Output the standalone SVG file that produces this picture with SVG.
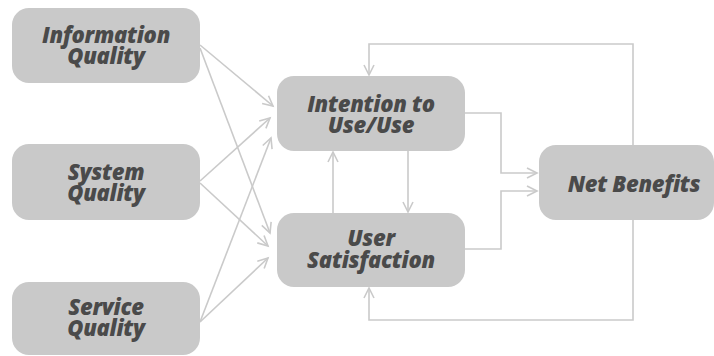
<svg xmlns="http://www.w3.org/2000/svg" width="714" height="356" viewBox="0 0 714 356">
<style>
.box{fill:#c9c9c9}
.lbl{font-family:"Open Sans","DejaVu Sans",sans-serif;font-weight:800;font-style:italic;font-size:22px;fill:#4a4a4a;text-anchor:middle;letter-spacing:-0.3px}
.con{fill:none;stroke:#cacaca;stroke-width:1.6;marker-end:url(#arr)}
</style>
<defs>
<marker id="arr" markerUnits="userSpaceOnUse" markerWidth="14" markerHeight="14" refX="11" refY="6" orient="auto" viewBox="0 0 14 12">
<path d="M1,1 L11,6 L1,11" fill="none" stroke="#cacaca" stroke-width="1.6"/>
</marker>
</defs>
<rect width="714" height="356" fill="#ffffff"/>
<g id="connectors">
<path class="con" d="M200,45 L273,106"/>
<path class="con" d="M200,48 L270,233"/>
<path class="con" d="M200,181 L270,118"/>
<path class="con" d="M200,183 L268,246"/>
<path class="con" d="M200,322 L271,138"/>
<path class="con" d="M200,322 L268,258"/>
<path class="con" d="M333,213 L333,152"/>
<path class="con" d="M408,151 L408,212"/>
<path class="con" d="M465,113 L501,113 L501,173 L537,173"/>
<path class="con" d="M465,249 L501,249 L501,191 L537,191"/>
<path class="con" d="M633,145 L633,44 L369,44 L369,75"/>
<path class="con" d="M633,220 L633,320 L369,320 L369,288"/>
</g>
<g id="information-quality">
<rect class="box" x="12" y="8" width="188" height="75" rx="17"/>
<text class="lbl"><tspan x="106" y="43">Information</tspan><tspan x="106" y="64">Quality</tspan></text>
</g>
<g id="system-quality">
<rect class="box" x="12" y="144" width="188" height="76" rx="17"/>
<text class="lbl"><tspan x="106" y="180">System</tspan><tspan x="106" y="201">Quality</tspan></text>
</g>
<g id="service-quality">
<rect class="box" x="12" y="282" width="188" height="73" rx="17"/>
<text class="lbl"><tspan x="106" y="315">Service</tspan><tspan x="106" y="336">Quality</tspan></text>
</g>
<g id="intention-to-use">
<rect class="box" x="277" y="76" width="188" height="75" rx="17"/>
<text class="lbl"><tspan x="371" y="112">Intention to</tspan><tspan x="371" y="133">Use/Use</tspan></text>
</g>
<g id="user-satisfaction">
<rect class="box" x="277" y="213" width="188" height="74" rx="17"/>
<text class="lbl"><tspan x="371" y="246">User</tspan><tspan x="371" y="268">Satisfaction</tspan></text>
</g>
<g id="net-benefits">
<rect class="box" x="539" y="145" width="175" height="75" rx="17"/>
<text class="lbl" x="634" y="192">Net Benefits</text>
</g>
</svg>
